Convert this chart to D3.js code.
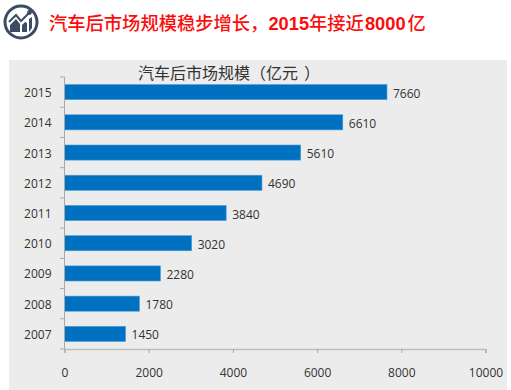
<!DOCTYPE html>
<html>
<head>
<meta charset="utf-8">
<script src="https://cdn.jsdelivr.net/npm/d3@7"></script>
<style>
html, body { margin: 0; padding: 0; background: #fff; }
svg { display: block; }
text { font-family: "Open Sans", "Noto Sans CJK SC", sans-serif; }
</style>
</head>
<body>
<script>
// chart data
var years = ["2015", "2014", "2013", "2012", "2011", "2010", "2009", "2008", "2007"];
var values = [7660, 6610, 5610, 4690, 3840, 3020, 2280, 1780, 1450];
var xTicks = [0, 2000, 4000, 6000, 8000, 10000];
var headlineParts = ["汽车后市场规模稳步增长，", "2015", "年接近", "8000", "亿"];
var headlineGaps = [0, 0, 0, 1, 2];
var titleParts = ["汽车后市场规模", "（", "亿元", "）"];
var titleGaps = [0, 0, 0, 6];

var w = 511;
var h = 390;

var svg = d3.select("body").append("svg")
    .attr("width", w)
    .attr("height", h);

// grey panel behind the chart
svg.append("rect")
    .attr("x", 9).attr("y", 60)
    .attr("width", 498).attr("height", 330)
    .attr("fill", "#ececec");

// round icon top left
var icon = svg.append("g").attr("transform", "translate(21,22)");
var iconColor = "#3d4b63";
icon.append("circle").attr("r", 16)
    .attr("fill", "#fff")
    .attr("stroke", iconColor)
    .attr("stroke-width", 3);
icon.append("path")
    .attr("d", "M-11,10 L-11,3 L-5,-3 L-1,2 L-1,10 Z M1,10 L1,3 L4,0 L6,1 L6,10 Z M8,10 L8,-3 L11,-5 L11,6 Z")
    .attr("fill", iconColor);
icon.append("path")
    .attr("d", "M-12,0 L-5,-7 L0,-1 L8,-9")
    .attr("fill", "none")
    .attr("stroke", iconColor)
    .attr("stroke-width", 2);
icon.append("circle").attr("cx", 8.5).attr("cy", -9.5).attr("r", 2.4).attr("fill", iconColor);

// headline, the digits are bold latin and the chinese is not
svg.append("text")
    .attr("x", 49).attr("y", 30)
    .attr("fill", "#fb0d0d")
    .attr("font-size", 18.3)
    .attr("font-weight", 500)
    .selectAll("tspan").data(headlineParts).enter().append("tspan")
    .attr("dx", function (d, i) { return headlineGaps[i]; })
    .attr("font-family", function (d) { return /\d/.test(d) ? '"Liberation Sans", sans-serif' : null; })
    .attr("font-weight", function (d) { return /\d/.test(d) ? 700 : null; })
    .text(function (d) { return d; });

// chart title, the closing bracket stands apart from the words
svg.append("text")
    .attr("x", 138).attr("y", 79)
    .attr("fill", "#333")
    .attr("font-size", 16)
    .selectAll("tspan").data(titleParts).enter().append("tspan")
    .attr("dx", function (d, i) { return titleGaps[i]; })
    .text(function (d) { return d; });

var x = d3.scaleLinear().domain([0, 10000]).range([64.5, 485.5]);
var y = d3.scaleBand().domain(years).range([77, 349]).paddingInner(0.5).paddingOuter(0.25);

// bars
svg.selectAll("rect.bar").data(values).enter().append("rect")
    .attr("class", "bar")
    .attr("x", x(0))
    .attr("y", function (d, i) { return y(years[i]); })
    .attr("width", function (d) { return x(d) - x(0); })
    .attr("height", y.bandwidth())
    .attr("fill", "#0070c0")
    .attr("stroke", "#4f9bd8")
    .attr("stroke-width", 0.6);

// value labels
svg.selectAll("text.val").data(values).enter().append("text")
    .attr("class", "val")
    .attr("x", function (d) { return x(d) + 6; })
    .attr("y", function (d, i) { return y(years[i]) + y.bandwidth() / 2 + 5.5; })
    .attr("fill", "#333")
    .attr("font-size", 12)
    .text(function (d) { return d; });

// axes
var xAxis = d3.axisBottom(x).tickValues(xTicks).tickSize(4).tickPadding(15).tickFormat(d3.format("d"));
var gx = svg.append("g").attr("transform", "translate(0,349)").call(xAxis);
gx.select(".domain").attr("stroke", "#bdbdbd").attr("stroke-width", 1.4);
gx.selectAll(".tick line").attr("stroke", "#a8a8a8");
gx.selectAll(".tick text").attr("fill", "#333").attr("font-size", 12)
    .attr("font-family", '"Open Sans", sans-serif');

var yAxis = d3.axisLeft(y).tickSize(0).tickPadding(13);
var gy = svg.append("g").attr("transform", "translate(64.5,0)").call(yAxis);
gy.select(".domain").attr("stroke", "#a8a8a8").attr("d", "M0,77V349");
gy.selectAll(".tick text").attr("fill", "#333").attr("font-size", 12)
    .attr("font-family", '"Open Sans", sans-serif')
    .attr("dy", "0.42em");

// the y ticks sit between the categories, not on them
var step = y.step();
svg.selectAll("line.ytick").data(d3.range(years.length + 1)).enter().append("line")
    .attr("class", "ytick")
    .attr("x1", 60).attr("x2", 64.5)
    .attr("y1", function (i) { return 77 + i * step; })
    .attr("y2", function (i) { return 77 + i * step; })
    .attr("stroke", "#a8a8a8");
</script>
</body>
</html>
